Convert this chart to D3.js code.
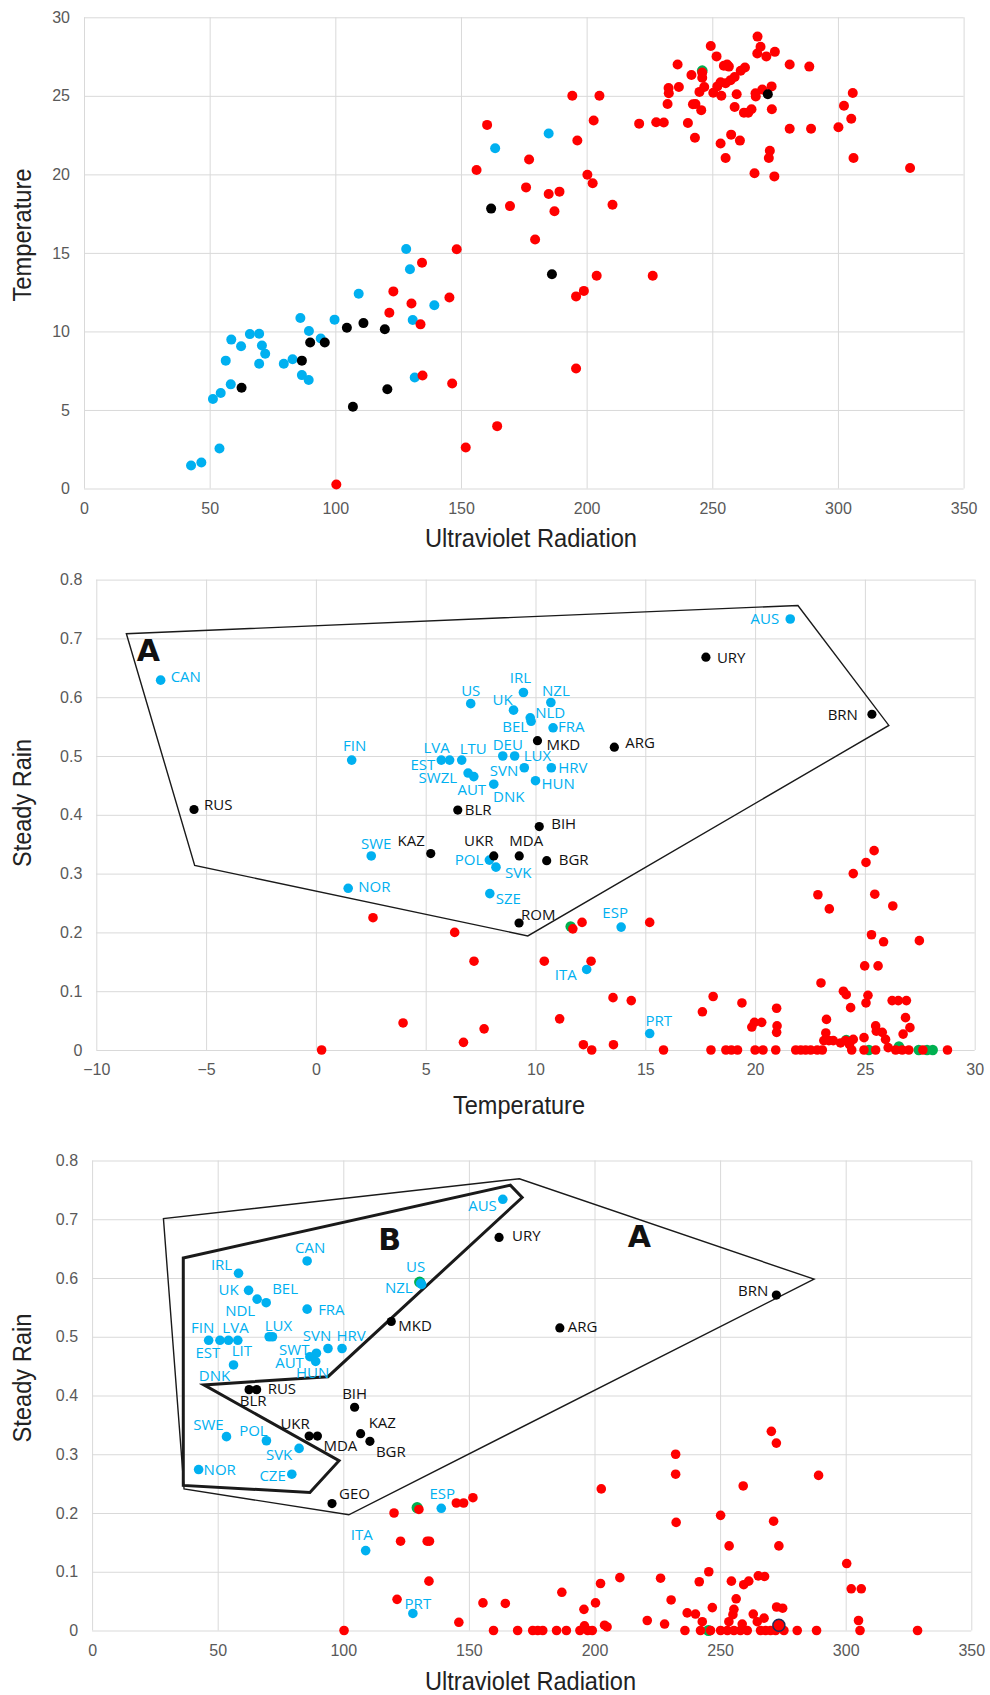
<!DOCTYPE html>
<html>
<head>
<meta charset="utf-8">
<script src="https://cdn.jsdelivr.net/npm/d3@7"></script>
<style>
  body { margin: 0; background: #fff; }
  .tick text { font-family: "Liberation Sans", Arial, sans-serif; font-size: 16px; fill: #595959; }
  .tick line { stroke: #d9d9d9; stroke-width: 1; }
  .title { font-family: "Liberation Sans", Arial, sans-serif; font-size: 26px; fill: #222; }
  .lbl { font-family: "Open Sans", sans-serif; font-size: 15px; }
  .big { font-family: "DejaVu Sans", sans-serif; font-weight: 900; font-size: 30px; fill: #111; }
</style>
</head>
<body>
<svg id="chart" width="990" height="1695"></svg>
<script>
// ---------- panel 1 : UV vs Temperature ----------
const p1Blue = [[42.6,1.47],[46.7,1.65],[53.9,2.55],[51.3,5.7],[54.4,6.08],[58.4,6.63],[56.4,8.14],[58.6,9.48],
  [62.5,9.06],[66.0,9.83],[69.7,9.85],[70.8,9.1],[72.1,8.58],[69.7,7.94],[79.5,7.94],[83.0,8.23],[86.1,10.86],
  [86.7,7.22],[89.4,6.91],[89.5,10.03],[94.2,9.55],[99.7,10.75],[109.3,12.4],[128.2,15.25],[129.7,13.96],
  [130.8,10.73],[139.4,11.67],[131.6,7.07],[163.6,21.66],[184.9,22.6]];
const p1Black = [[62.7,6.41],[86.7,8.14],[90.0,9.3],[95.8,9.3],[104.6,10.23],[111.2,10.53],[119.7,10.14],
  [107.0,5.2],[120.7,6.32],[162.0,17.82],[186.2,13.64],[272.1,25.1]];
const p1Red = [[100.4,0.26],[121.5,11.19],[123.1,12.55],[130.3,11.78],[134.5,14.37],[133.9,10.45],[134.7,7.2],
  [145.4,12.16],[148.3,15.23],[146.5,6.69],[151.9,2.61],[160.4,23.15],[156.2,20.28],[164.4,3.97],
  [177.1,20.95],[175.9,19.17],[169.5,17.98],[179.5,15.85],[184.9,18.75],[189.2,18.9],[187.2,17.65],[194.3,25.0],
  [205.1,25.0],[202.8,23.43],[196.3,22.16],[200.3,19.98],[202.4,19.43],[210.3,18.07],[204.0,13.55],[198.9,12.58],
  [195.8,12.23],[226.3,13.55],[195.8,7.64],[220.9,23.23],[227.7,23.32],[230.7,23.3],[232.2,24.48],[232.6,25.5],
  [232.7,25.16],[236.2,27.0],[236.7,25.56],[240.3,23.27],[241.7,26.33],[243.1,22.33],[242.3,24.46],[243.3,24.48],
  [245.6,24.09],[244.9,25.25],[246.0,26.48],[246.0,26.15],[246.8,25.56],[249.4,28.17],[251.7,27.51],[250.4,25.2],
  [252.0,25.6],[253.3,25.87],[253.6,25.0],[254.6,26.92],[255.9,27.0],[256.6,26.86],[255.3,25.8],[257.3,26.0],
  [258.9,26.2],[261.3,26.6],[263.0,26.8],[259.7,25.1],[258.9,24.29],[257.5,22.53],[261.0,22.15],[253.3,21.96],
  [255.3,21.04],[262.6,23.93],[264.3,23.93],[265.6,24.15],[266.8,20.07],[267.2,25.16],[267.3,24.96],[268.0,28.77],
  [269.2,28.13],[267.9,27.7],[269.9,25.4],[271.5,27.51],[273.6,25.6],[274.9,27.8],[273.7,24.15],[272.9,21.5],
  [272.5,21.04],[274.7,19.87],[280.8,27.0],[280.8,22.9],[288.6,26.86],[289.3,22.9],[300.2,23.0],[302.4,24.37],
  [305.3,23.54],[305.9,25.18],[306.2,21.04],[328.7,20.4]];
const p1Green = [[246.0,26.6]];

// ---------- panel 2 : Temperature vs Steady Rain ----------
// [name, temperature, steady rain]
const p2Blue = [["CAN",-7.07,0.629],["US",7.05,0.589],["FIN",1.63,0.493],["EST",5.71,0.493],["LVA",6.09,0.493],
  ["LTU",6.64,0.493],["SWZL",6.93,0.471],["AUT",7.19,0.465],["DNK",8.1,0.452],["SWE",2.52,0.330],["NOR",1.47,0.275],
  ["POL",7.9,0.323],["SVK",8.2,0.311],["SZE",7.92,0.266],["AUS",21.6,0.733],["IRL",9.45,0.608],["UK",9.0,0.578],
  ["NZL",10.7,0.591],["NLD",9.76,0.565],["BEL",9.8,0.559],["FRA",10.8,0.548],["DEU",8.51,0.5],["LUX",9.05,0.5],
  ["SVN",9.49,0.48],["HRV",10.72,0.48],["HUN",10.0,0.458],["ESP",13.9,0.209],["ITA",12.33,0.137],["PRT",15.2,0.028]];
const p2Black = [["RUS",-5.55,0.409],["BLR",6.46,0.408],["KAZ",5.23,0.334],["UKR",8.1,0.330],["URY",17.76,0.668],
  ["BRN",25.32,0.571],["MKD",10.09,0.526],["ARG",13.59,0.515],["BIH",10.17,0.380],["MDA",9.26,0.330],
  ["BGR",10.51,0.322],["ROM",9.25,0.216]];
const p2Red = [[2.6,0.225],[6.32,0.2],[7.2,0.151],[3.97,0.046],[7.66,0.036],[6.72,0.013],[0.26,0],
  [11.7,0.206],[12.12,0.217],[15.2,0.217],[10.4,0.151],[12.53,0.151],[11.1,0.053],[12.18,0.009],[12.56,0],
  [13.53,0.089],[13.55,0.009],[14.36,0.084],[15.83,0],[17.6,0.065],[18.09,0.091],[17.99,0],[18.67,0],[18.92,0],
  [19.2,0],[19.4,0.08],[19.85,0.039],[19.97,0.047],[20.3,0.047],[20.0,0],[20.36,0],[20.94,0],[20.98,0.071],
  [21.0,0.041],[20.98,0.030],[21.85,0],[22.08,0],[22.3,0],[22.53,0],[22.83,0],[23.06,0],[22.86,0.264],[23.38,0.24],
  [23.0,0.114],[23.25,0.052],[23.22,0.029],[23.13,0.016],[23.36,0.016],[23.56,0.016],[23.89,0.012],[24.12,0.016],
  [24.3,0.009],[24.4,0],[24.47,0.018],[24.02,0.1],[24.15,0.094],[24.35,0.072],[24.47,0.3],[25.05,0.319],
  [25.42,0.339],[25.45,0.265],[26.27,0.245],[25.3,0.196],[25.85,0.184],[24.99,0.143],[25.6,0.143],[25.14,0.093],
  [25.05,0.08],[24.96,0.021],[24.96,0],[25.49,0.041],[25.52,0.032],[25.79,0.03],[25.94,0.018],[26.06,0.004],
  [25.49,0],[26.4,0],[26.24,0.084],[26.52,0.084],[26.89,0.084],[26.85,0.055],[27.05,0.038],[26.74,0.027],
  [26.7,0],[27.0,0],[27.48,0.186],[27.64,0],[28.76,0]];
const p2Green = [[11.6,0.21],[24.15,0.017],[25.18,0],[26.55,0.006],[27.45,0],[27.83,0],[28.09,0]];
const p2Hull = [[-8.63,0.708],[-5.52,0.314],[9.65,0.194],[26.09,0.552],[21.95,0.756]];

// ---------- panel 3 : UV vs Steady Rain ----------
const p3Blue = [["IRL",58.3,0.608],["UK",62.3,0.579],["NDL",65.7,0.564],["BEL",69.3,0.558],["CAN",85.6,0.629],
  ["FRA",85.6,0.547],["DEU",70.5,0.5],["LUX",71.8,0.5],["FIN",46.4,0.494],["EST",50.9,0.494],["LVA",54.3,0.494],
  ["LIT",58.0,0.494],["DNK",56.3,0.452],["SVN",93.9,0.480],["HRV",99.5,0.480],["SWT",89.3,0.472],["AUT",86.7,0.466],
  ["HUN",89.0,0.458],["SWE",53.5,0.330],["POL",69.4,0.323],["SVK",82.4,0.310],["NOR",42.4,0.274],["CZE",79.5,0.266],
  ["US",130.8,0.591],["NZL",131.2,0.589],["ESP",139.0,0.208],["ITA",108.9,0.136],["PRT",127.7,0.029],["AUS",163.5,0.734]];
const p3Black = [["BLR",62.5,0.41],["RUS",65.5,0.41],["BIH",104.5,0.380],["UKR",86.4,0.331],["MDA",89.7,0.331],
  ["KAZ",106.9,0.335],["BGR",110.6,0.322],["MKD",119.1,0.526],["GEO",95.5,0.216],["URY",162.0,0.669],
  ["ARG",186.2,0.515],["BRN",272.4,0.571]];
const p3Red = [[120.2,0.2],[130.1,0.206],[145.0,0.217],[147.9,0.217],[151.6,0.226],[122.8,0.152],[133.4,0.152],
  [134.3,0.152],[134.1,0.084],[121.4,0.053],[155.6,0.047],[146.0,0.014],[100.3,0],[159.8,0],
  [164.5,0.046],[169.4,0],[175.4,0],[177.4,0],[179.4,0],[184.9,0],[188.8,0],[187.0,0.065],[194.2,0],[196.0,0.008],
  [195.8,0.036],[197.3,0],[199.1,0],[200.4,0.047],[202.4,0.08],[202.7,0.241],[204.0,0.009],[205.0,0.006],
  [210.1,0.09],[221.0,0.017],[226.3,0.089],[227.9,0.011],[230.5,0.052],[232.3,0.3],[232.3,0.266],[232.5,0.184],
  [236.0,0],[236.9,0.03],[240.2,0.028],[241.7,0.083],[245.5,0.1],[242.9,0.015],[242.2,0],[246.2,0],[246.9,0.039],
  [250.2,0.196],[253.6,0.144],[250.2,0],[252.9,0],[253.5,0.015],[254.5,0.084],[255.5,0.036],[255.1,0.027],
  [256.4,0.054],[255.5,0],[258.1,0],[259.2,0.246],[259.4,0.078],[261.4,0.084],[258.8,0.011],[260.8,0],
  [263.2,0.028],[264.8,0.015],[265.2,0.093],[267.7,0.092],[267.5,0.021],[266.1,0],[268.1,0],[270.4,0.339],
  [272.4,0.319],[271.3,0.186],[273.4,0.144],[272.5,0.04],[274.9,0.038],[270.1,0],[272.1,0],[275.4,0],[280.7,0],
  [288.4,0],[289.2,0.264],[300.4,0.114],[302.2,0.071],[306.2,0.071],[305.1,0.017],[305.7,0],[328.6,0]];
const p3Green = [[130.4,0.593],[129.4,0.209],[245.4,0],[273.4,0.01]];
const p3Ringed = [[273.4,0.009]];
const p3HullA = [[28.4,0.701],[36.6,0.241],[102.2,0.197],[287.4,0.598],[170.1,0.769]];
const p3HullB = [[36.3,0.634],[166.5,0.758],[171.2,0.737],[93.9,0.432],[44.5,0.418],[98.3,0.289],[86.7,0.235],[36.3,0.247]];

// label placement (anchor, dx px, dy px) kept apart from the values
const p2Lab = {CAN:["start",10,-4],US:["middle",0,-13],FIN:["middle",3,-15],EST:["end",-6,4],LVA:["middle",-13,-13],
  LTU:["start",-2,-12],SWZL:["end",-11,5],AUT:["middle",-2,13],SWE:["middle",5,-12],KAZ:["end",-6,-13],
  NOR:["start",10,-2],RUS:["start",10,-5],BLR:["start",7,0],UKR:["middle",-15,-15],POL:["end",-6,0],
  AUS:["end",-11,0],URY:["start",11,0],IRL:["middle",-3,-15],UK:["middle",-11,-11],NZL:["middle",5,-12],
  NLD:["start",5,-5],BEL:["end",-3,5],FRA:["start",5,-1],DEU:["middle",5,-11],LUX:["start",9,0],SVN:["end",-6,3],
  HRV:["start",7,0],HUN:["start",6,3],DNK:["middle",15,12],MKD:["start",9,4],ARG:["start",11,-5],BRN:["end",-14,0],
  BIH:["start",12,-3],MDA:["middle",7,-15],BGR:["start",12,-1],SVK:["start",9,5],SZE:["start",6,5],ROM:["start",2,-8],
  ESP:["middle",-6,-15],ITA:["end",-10,5],PRT:["middle",9,-13]};
const p3Lab = {IRL:["middle",-17,-9],UK:["end",-10,-1],NDL:["middle",-17,11],BEL:["start",6,-14],CAN:["middle",3,-13],
  FRA:["start",11,0],LUX:["middle",6,-11],FIN:["middle",-6,-13],EST:["middle",-12,12],LVA:["middle",7,-13],
  LIT:["middle",4,10],DNK:["middle",-19,11],SVN:["middle",-11,-13],HRV:["middle",9,-13],SWT:["end",-7,-4],
  AUT:["end",-6,6],HUN:["middle",-3,11],SWE:["middle",-18,-12],POL:["middle",-13,-10],SVK:["middle",-20,6],
  NOR:["start",5,0],CZE:["end",-6,1],US:["middle",-5,-17],NZL:["end",-9,3],ESP:["middle",1,-15],ITA:["middle",-4,-16],
  PRT:["middle",5,-10],AUS:["end",-6,6],BLR:["middle",4,11],RUS:["start",11,-1],BIH:["middle",0,-14],
  UKR:["middle",-14,-12],MDA:["middle",23,10],KAZ:["start",8,-11],BGR:["start",6,10],MKD:["start",7,4],
  GEO:["start",7,-10],URY:["start",13,-2],ARG:["start",8,-1],BRN:["end",-8,-4]};

const BLUE = "#00b0f0", RED = "#ff0000", BLACK = "#000000", GREEN = "#00b050";
const svg = d3.select("#chart");

function panel(cfg) {
  const g = svg.append("g");
  const x = d3.scaleLinear().domain(cfg.xd).range([cfg.left, cfg.right]);
  const y = d3.scaleLinear().domain(cfg.yd).range([cfg.bottom, cfg.top]);
  const xa = g.append("g").attr("transform", `translate(0,${cfg.bottom})`)
    .call(d3.axisBottom(x).tickValues(cfg.xt).tickSize(-(cfg.bottom - cfg.top)).tickFormat(cfg.xf || d3.format("d")));
  const ya = g.append("g").attr("transform", `translate(${cfg.left},0)`)
    .call(d3.axisLeft(y).tickValues(cfg.yt).tickSize(-(cfg.right - cfg.left)).tickPadding(14).tickFormat(cfg.yf || d3.format("d")));
  [xa, ya].forEach(a => a.select(".domain").remove());
  xa.selectAll(".tick text").attr("y", 25).attr("dy", null);
  g.append("text").attr("class", "title").attr("text-anchor", "middle")
    .attr("x", cfg.xtx).attr("y", cfg.xty).attr("textLength", cfg.xtl).attr("lengthAdjust", "spacingAndGlyphs")
    .text(cfg.xTitle);
  g.append("text").attr("class", "title").attr("text-anchor", "middle")
    .attr("transform", `translate(31,${cfg.ytc}) rotate(-90)`).attr("textLength", cfg.ytl).attr("lengthAdjust", "spacingAndGlyphs")
    .text(cfg.yTitle);
  return { g, x, y };
}

function dots(p, data, color, r, getX, getY) {
  p.g.append("g").selectAll("circle").data(data).join("circle")
    .attr("cx", d => p.x(getX(d))).attr("cy", d => p.y(getY(d))).attr("r", r).attr("fill", color);
}

function hull(p, pts, w) {
  const line = d3.line().x(d => p.x(d[0])).y(d => p.y(d[1])).curve(d3.curveLinearClosed);
  p.g.append("path").attr("d", line(pts)).attr("fill", "none").attr("stroke", "#1a1a1a")
    .attr("stroke-width", w).attr("stroke-linejoin", "miter");
}

function labels(p, data, color, pos) {
  p.g.append("g").selectAll("text").data(data.filter(d => pos[d[0]])).join("text")
    .attr("class", "lbl").attr("fill", color)
    .attr("text-anchor", d => pos[d[0]][0])
    .attr("x", d => p.x(d[1]) + pos[d[0]][1])
    .attr("y", d => p.y(d[2]) + pos[d[0]][2])
    .attr("dy", "0.36em")
    .text(d => d[0]);
}

const fx = d => d[0], fy = d => d[1], nx = d => d[1], ny = d => d[2];
const f1 = d => d === 0 ? "0" : d3.format(".1f")(d);

// panel 1
const P1 = panel({ left: 84, right: 963.6, top: 17.3, bottom: 488.5, xd: [0, 350], yd: [0, 30],
  xt: d3.range(0, 351, 50), yt: d3.range(0, 31, 5),
  xTitle: "Ultraviolet Radiation", xtx: 531, xty: 547, xtl: 212,
  yTitle: "Temperature", ytc: 235, ytl: 133 });
dots(P1, p1Green, GREEN, 5.4, fx, fy);
dots(P1, p1Blue, BLUE, 5, fx, fy);
dots(P1, p1Red, RED, 5, fx, fy);
dots(P1, p1Black, BLACK, 5, fx, fy);

// panel 2
const P2 = panel({ left: 96.3, right: 974.7, top: 579.6, bottom: 1050, xd: [-10, 30], yd: [0, 0.8],
  xt: d3.range(-10, 31, 5), yt: d3.range(0, 0.81, 0.1), yf: f1,
  xTitle: "Temperature", xtx: 519, xty: 1114, xtl: 132,
  yTitle: "Steady Rain", ytc: 803, ytl: 128 });
hull(P2, p2Hull, 1.4);
dots(P2, p2Green, GREEN, 5.2, fx, fy);
dots(P2, p2Blue, BLUE, 4.8, nx, ny);
dots(P2, p2Red, RED, 4.8, fx, fy);
dots(P2, p2Black, BLACK, 4.6, nx, ny);
labels(P2, p2Blue, BLUE, p2Lab);
labels(P2, p2Black, "#111", p2Lab);
P2.g.append("text").attr("class", "big").attr("x", P2.x(-8.16)).attr("y", P2.y(0.662)).text("A");

// panel 3
const P3 = panel({ left: 92.1, right: 971.3, top: 1160.5, bottom: 1630.5, xd: [0, 350], yd: [0, 0.8],
  xt: d3.range(0, 351, 50), yt: d3.range(0, 0.81, 0.1), yf: f1,
  xTitle: "Ultraviolet Radiation", xtx: 530.5, xty: 1690, xtl: 211,
  yTitle: "Steady Rain", ytc: 1378, ytl: 129 });
hull(P3, p3HullA, 1.4);
hull(P3, p3HullB, 3);
dots(P3, p3Green, GREEN, 5.6, fx, fy);
dots(P3, p3Blue, BLUE, 4.8, nx, ny);
dots(P3, p3Red, RED, 4.8, fx, fy);
P3.g.append("g").selectAll("circle").data(p3Ringed).join("circle")
  .attr("cx", d => P3.x(d[0])).attr("cy", d => P3.y(d[1])).attr("r", 6)
  .attr("fill", RED).attr("stroke", "#1f2a5a").attr("stroke-width", 1.5);
dots(P3, p3Black, BLACK, 4.6, nx, ny);
labels(P3, p3Blue, BLUE, p3Lab);
labels(P3, p3Black, "#111", p3Lab);
P3.g.append("text").attr("class", "big").attr("x", P3.x(113.9)).attr("y", P3.y(0.648)).text("B");
P3.g.append("text").attr("class", "big").attr("x", P3.x(213.2)).attr("y", P3.y(0.652)).text("A");
</script>
</body>
</html>
